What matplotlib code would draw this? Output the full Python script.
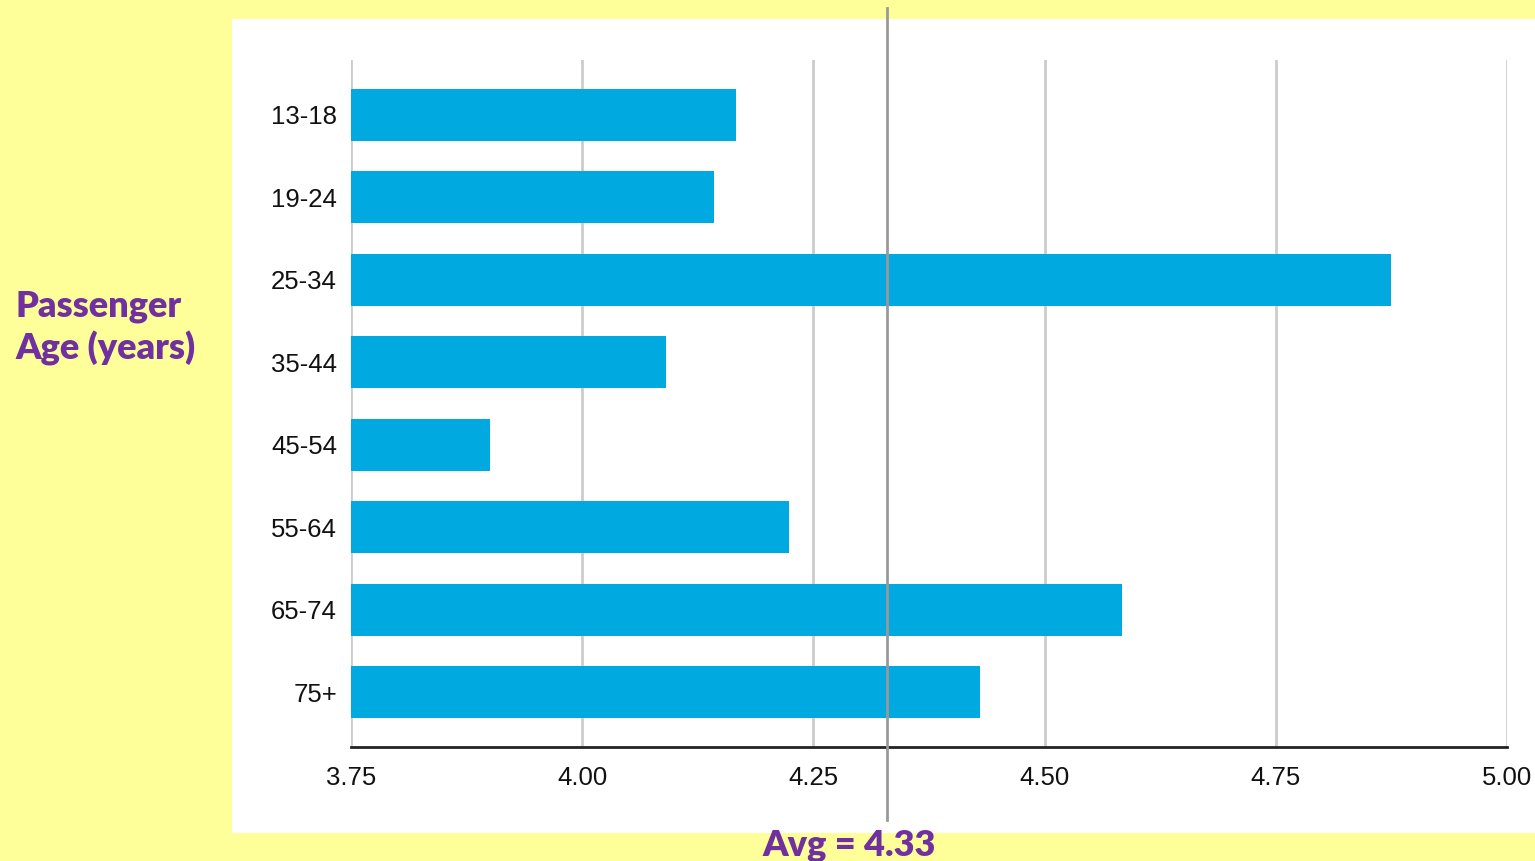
import matplotlib
matplotlib.use("Agg")
import matplotlib.pyplot as plt
from matplotlib.patches import Rectangle
from matplotlib.lines import Line2D

# Average passenger rating by age group
age_groups = ["13-18", "19-24", "25-34", "35-44", "45-54", "55-64", "65-74", "75+"]
ratings = [4.166, 4.142, 4.875, 4.091, 3.900, 4.224, 4.584, 4.430]
average = 4.33
x_ticks = [3.75, 4.00, 4.25, 4.50, 4.75, 5.00]
x_tick_labels = ["3.75", "4.00", "4.25", "4.50", "4.75", "5.00"]

W, H = 1535, 861
fig = plt.figure(figsize=(W / 100, H / 100), dpi=100)
fig.patch.set_facecolor("#FFFF99")

# white chart panel
fig.patches.append(Rectangle((232 / W, 1 - 833 / H), (W - 232) / W, (833 - 19) / H,
                             transform=fig.transFigure, facecolor="white",
                             edgecolor="none", zorder=-5))

ax = fig.add_axes([351 / W, 1 - 747 / H, (1507 - 351) / W, (747 - 60) / H])
ax.set_facecolor("none")

ypos = list(range(len(age_groups)))
ax.barh(ypos, [r - x_ticks[0] for r in ratings], left=x_ticks[0], height=0.63,
        color="#00A9E0", zorder=3)

ax.set_xlim(x_ticks[0], x_ticks[-1])
ax.set_ylim(len(age_groups) - 1 + 0.667, -0.667)
ax.set_yticks(ypos)
ax.set_yticklabels(age_groups, fontfamily="Liberation Sans", fontsize=18.5)
ax.set_xticks(x_ticks)
ax.set_xticklabels(x_tick_labels, fontfamily="Liberation Sans", fontsize=18.5)
ax.tick_params(axis="both", length=0, colors="#111111")
ax.tick_params(axis="x", pad=14)
ax.tick_params(axis="y", pad=10)

ax.grid(axis="x", color="#CCCCCC", linewidth=2, zorder=1)
for side in ["top", "right", "left"]:
    ax.spines[side].set_visible(False)
ax.spines["bottom"].set_color("#222222")
ax.spines["bottom"].set_linewidth(2)
ax.spines["bottom"].set_zorder(4)

# average marker line spanning the panel
xa = ax.transData.transform((average, 0))[0] / W
fig.lines.append(Line2D([xa, xa], [1 - 820 / H, 1 - 8 / H], transform=fig.transFigure,
                        color="#999999", linewidth=2, zorder=5))

fig.text(xa - 0.025, 1 - 845 / H, f"Avg = {average:.2f}", fontfamily="Lato",
         fontweight="heavy", fontsize=26, color="#7030A0", ha="center", va="center")

fig.text(15 / W, 1 - 328 / H, "Passenger\nAge (years)", fontfamily="Lato",
         fontweight="heavy", fontsize=26, color="#7030A0", ha="left", va="center",
         linespacing=1.3)

fig.savefig("out.png", dpi=100, facecolor=fig.get_facecolor())
